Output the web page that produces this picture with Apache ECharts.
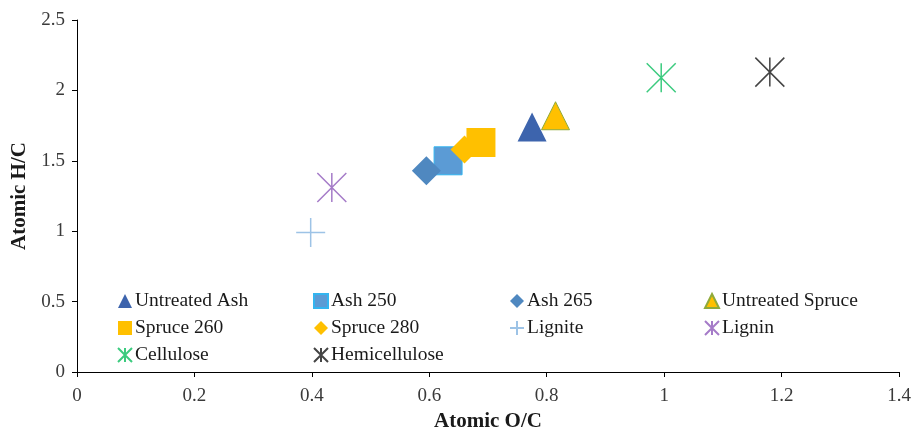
<!DOCTYPE html>
<html>
<head>
<meta charset="utf-8">
<script src="https://cdn.jsdelivr.net/npm/echarts@6/dist/echarts.min.js"></script>
<style>
  html, body { margin: 0; padding: 0; background: #fff; overflow: hidden; }
  #chart { width: 912px; height: 427px; }
</style>
</head>
<body>
<div id="chart"></div>
<script>
// Van Krevelen style data: atomic O/C (x) vs atomic H/C (y)
const seriesNames = [
  'Untreated Ash', 'Ash 250', 'Ash 265', 'Untreated Spruce',
  'Spruce 260', 'Spruce 280', 'Lignite', 'Lignin',
  'Cellulose', 'Hemicellulose'
];
const ocValues = [0.775, 0.632, 0.595, 0.815, 0.688, 0.660, 0.398, 0.434, 0.995, 1.180];
const hcValues = [1.74, 1.50, 1.43, 1.82, 1.63, 1.58, 0.99, 1.31, 2.09, 2.13];
const xTicks = [0, 0.2, 0.4, 0.6, 0.8, 1, 1.2, 1.4];
const yTicks = [0, 0.5, 1, 1.5, 2, 2.5];

const starPath = 'path://M0,-10 L0,10 M-10,-10 L10,10 M-10,10 L10,-10';
const plusPath = 'path://M0,-10 L0,10 M-10,0 L10,0';

const styles = {
  'Untreated Ash':    { symbol: 'triangle', size: 29, color: '#3D64AD', border: '#3D64AD', bw: 0 },
  'Ash 250':          { symbol: 'rect',     size: 28, color: '#5B9BD5', border: '#33B5F0', bw: 1 },
  'Ash 265':          { symbol: 'diamond',  size: 29, color: '#4F88C0', border: '#4F88C0', bw: 0 },
  'Untreated Spruce': { symbol: 'triangle', size: 28, color: '#FFC000', border: '#8FAA3A', bw: 1 },
  'Spruce 260':       { symbol: 'rect',     size: 29, color: '#FFC000', border: '#FFC000', bw: 0 },
  'Spruce 280':       { symbol: 'diamond',  size: 28, color: '#FFC000', border: '#F0B400', bw: 0 },
  'Lignite':          { symbol: plusPath,   size: 29, color: 'none', border: '#9DC3E6', bw: 1.5, line: true },
  'Lignin':           { symbol: starPath,   size: 29, color: 'none', border: '#A57BC8', bw: 1.5, line: true },
  'Cellulose':        { symbol: starPath,   size: 29, color: 'none', border: '#3CCB7F', bw: 1.5, line: true },
  'Hemicellulose':    { symbol: starPath,   size: 29, color: 'none', border: '#444444', bw: 1.5, line: true }
};

const series = seriesNames.map((name, i) => {
  const s = styles[name];
  return {
    name: name,
    type: 'scatter',
    symbol: s.symbol,
    symbolSize: s.size,
    data: [[ocValues[i], hcValues[i]]],
    itemStyle: {
      color: s.line ? 'rgba(0,0,0,0)' : s.color,
      borderColor: s.border,
      borderWidth: s.bw,
      opacity: 1
    },
    emphasis: { disabled: true }
  };
});

const legendCols = [
  { left: 117, names: ['Untreated Ash', 'Spruce 260', 'Cellulose'] },
  { left: 313, names: ['Ash 250', 'Spruce 280', 'Hemicellulose'] },
  { left: 509, names: ['Ash 265', 'Lignite'] },
  { left: 704, names: ['Untreated Spruce', 'Lignin'] }
];

const serif = 'Liberation Serif';

const legends = legendCols.map(col => ({
  orient: 'vertical',
  left: col.left,
  top: 291,
  itemWidth: 14,
  itemHeight: 14,
  itemGap: 7,
  padding: 0,
  selectedMode: false,
  data: col.names,
  textStyle: {
    fontFamily: serif,
    fontSize: 19.5,
    lineHeight: 20,
    color: '#1a1a1a',
    padding: [0, 0, 0, -2]
  }
}));

const chart = echarts.init(document.getElementById('chart'), null, { renderer: 'canvas', width: 912, height: 427 });
chart.setOption({
  animation: false,
  backgroundColor: '#ffffff',
  grid: {
    left: 77, width: 822, top: 20, height: 352,
    containLabel: false,
    outerBoundsMode: 'none'
  },
  legend: legends,
  xAxis: {
    type: 'value',
    min: 0,
    max: 1.4,
    interval: 0.2,
    name: 'Atomic O/C',
    nameLocation: 'middle',
    nameGap: 37,
    nameTextStyle: { fontFamily: serif, fontSize: 21, fontWeight: 'bold', color: '#1a1a1a' },
    axisLine: { show: true, lineStyle: { color: '#000', width: 1 } },
    axisTick: { show: true, inside: false, length: 5, lineStyle: { color: '#000' } },
    splitLine: { show: false },
    axisLabel: {
      margin: 15,
      fontFamily: serif,
      fontSize: 19,
      color: '#3a3a3a',
      formatter: v => String(parseFloat(v.toFixed(1)))
    }
  },
  yAxis: {
    type: 'value',
    min: 0,
    max: 2.5,
    interval: 0.5,
    name: 'Atomic H/C',
    nameLocation: 'middle',
    nameGap: 39,
    nameRotate: 90,
    nameTextStyle: { fontFamily: serif, fontSize: 21, fontWeight: 'bold', color: '#1a1a1a' },
    axisLine: { show: true, lineStyle: { color: '#000', width: 1 } },
    axisTick: { show: true, inside: false, length: 5, lineStyle: { color: '#000' } },
    splitLine: { show: false },
    axisLabel: {
      margin: 12,
      fontFamily: serif,
      fontSize: 19,
      color: '#3a3a3a',
      formatter: v => String(parseFloat(v.toFixed(1)))
    }
  },
  series: series
});
</script>
</body>
</html>
